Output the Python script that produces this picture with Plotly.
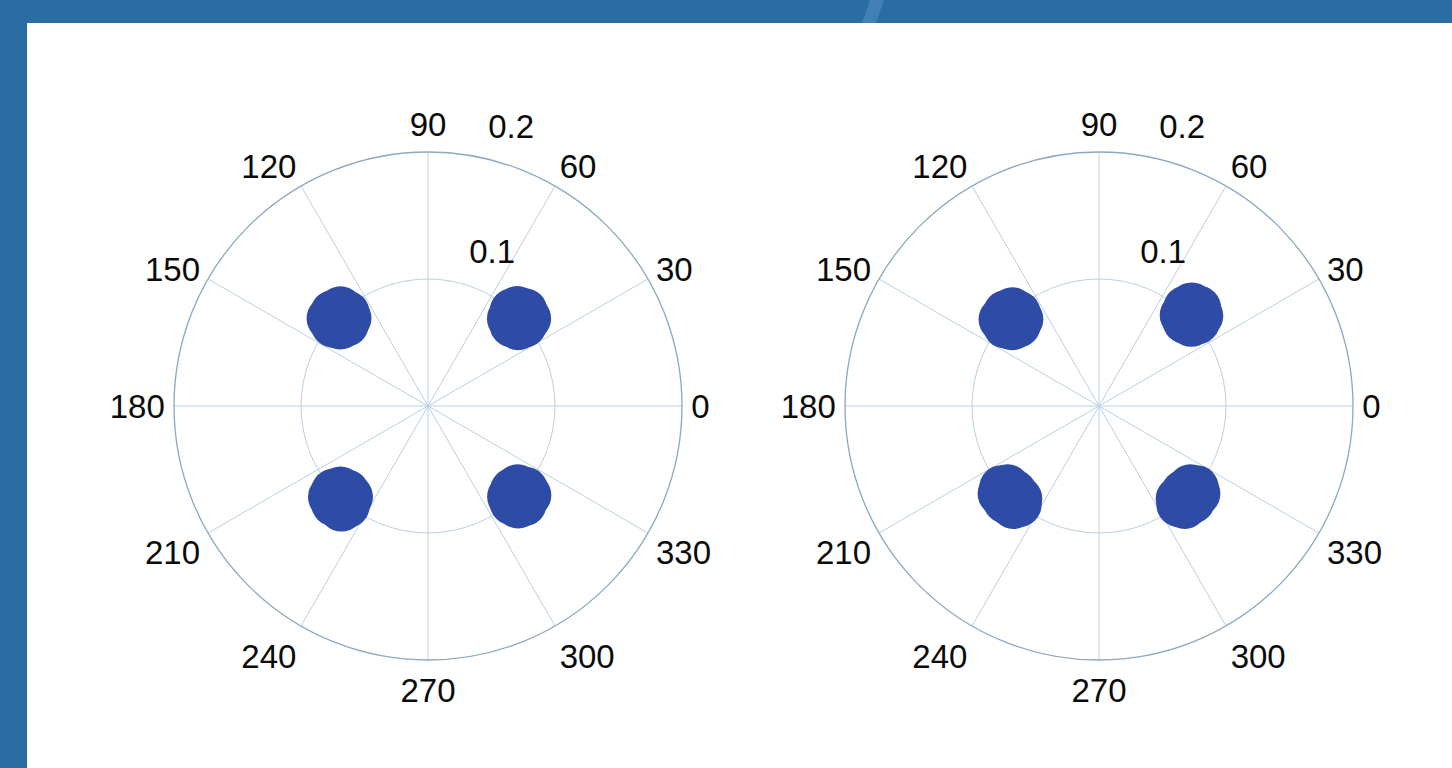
import plotly.graph_objects as go

# ---- data ----
angle_ticks = [0, 30, 60, 90, 120, 150, 180, 210, 240, 270, 300, 330]
angle_labels = ["0", "30", "60", "90", "120", "150", "180", "210", "240", "270", "300", "330"]
radial_ticks = [0.1, 0.2]
radial_labels = ["0.1", "0.2"]

# left constellation (four clusters)
r_left = [0.099, 0.094, 0.094, 0.105, 0.104, 0.099, 0.100, 0.092, 0.107,
          0.098, 0.093, 0.093, 0.103, 0.104, 0.097, 0.098, 0.091, 0.105,
          0.100, 0.095, 0.094, 0.105, 0.106, 0.100, 0.101, 0.093, 0.107,
          0.101, 0.096, 0.095, 0.106, 0.106, 0.101, 0.101, 0.094, 0.108]
theta_left = [44, 41, 47, 41, 47.5, 40, 48.5, 44, 44.5,
              135, 132, 138, 132, 138.5, 131, 139.5, 135, 135.5,
              226.5, 223.5, 229.5, 223, 230, 222, 231, 226.5, 226,
              315, 312, 318, 312, 318.5, 311, 319.5, 315, 314.5]

# right constellation (four clusters)
r_right = [0.102, 0.097, 0.097, 0.107, 0.108, 0.102, 0.103, 0.095, 0.110,
           0.097, 0.092, 0.092, 0.102, 0.103, 0.097, 0.097, 0.090, 0.104,
           0.100, 0.096, 0.096, 0.104, 0.104, 0.100, 0.100, 0.095, 0.105,
           0.100, 0.096, 0.096, 0.104, 0.104, 0.100, 0.100, 0.095, 0.105]
theta_right = [44.5, 41.5, 47.5, 41.5, 47.5, 40.5, 48.5, 44.5, 44.5,
               135, 132, 138, 132, 138.5, 131, 139.5, 135, 135,
               225.5, 221.5, 229.5, 221.5, 229.5, 220, 231, 225.5, 225.5,
               314.5, 310.5, 318.5, 310.5, 318.5, 309, 320, 314.5, 314.5]

W, H = 1452, 768
FONT = "Liberation Sans, Arial, sans-serif"
DOT = "#2e4ba6"
GRID = "#bad0e1"
OUTER = "#8aa8c0"
R = 254            # plot radius (px) for r = 0.2
LABEL_SHIFT = 36.5  # radial labels sit this far outward along the label line (px)
AX_ANGLE = 81.4
MSIZE = 45

fig = go.Figure()
fig.add_trace(go.Scatterpolar(r=r_left, theta=theta_left, mode="markers", subplot="polar",
                              marker=dict(size=MSIZE, color=DOT, line=dict(width=0)),
                              hoverinfo="skip", showlegend=False))
fig.add_trace(go.Scatterpolar(r=r_right, theta=theta_right, mode="markers", subplot="polar2",
                              marker=dict(size=MSIZE, color=DOT, line=dict(width=0)),
                              hoverinfo="skip", showlegend=False))
# empty traces that only carry the radial tick-label overlays
fig.add_trace(go.Scatterpolar(r=[], theta=[], mode="markers", subplot="polar3",
                              hoverinfo="skip", showlegend=False))
fig.add_trace(go.Scatterpolar(r=[], theta=[], mode="markers", subplot="polar4",
                              hoverinfo="skip", showlegend=False))


def dom(cx, cy, rad):
    return dict(x=[(cx - rad) / W, (cx + rad) / W], y=[(H - cy - rad) / H, (H - cy + rad) / H])


def polar_layout(cx, cy):
    return dict(
        domain=dom(cx, cy, R),
        bgcolor="rgba(0,0,0,0)",
        radialaxis=dict(range=[0, 0.2], tickmode="array", tickvals=radial_ticks,
                        showticklabels=False,
                        showline=False, showgrid=True, gridcolor=GRID, gridwidth=1,
                        angle=AX_ANGLE, ticks="", layer="below traces"),
        angularaxis=dict(direction="counterclockwise", rotation=0, tickmode="array",
                         tickvals=angle_ticks, ticktext=angle_labels,
                         showline=True, linecolor=OUTER, linewidth=1.3,
                         showgrid=True, gridcolor=GRID, gridwidth=1,
                         ticks="outside", ticklen=2, tickcolor="rgba(0,0,0,0)",
                         tickfont=dict(size=33, color="#0a0a0a", family=FONT), layer="below traces"),
    )


def label_layout(cx, cy):
    scale = R / 0.2                      # px per data unit
    r0 = -LABEL_SHIFT / scale
    r1 = 0.2 + 0.03
    rad = (r1 - r0) * scale
    return dict(
        domain=dom(cx, cy, rad),
        bgcolor="rgba(0,0,0,0)",
        radialaxis=dict(range=[r0, r1], tickmode="array", tickvals=radial_ticks, ticktext=radial_labels,
                        showline=False, showgrid=False, angle=AX_ANGLE, tickangle=AX_ANGLE,
                        side="clockwise", ticks="",
                        tickfont=dict(size=33, color="#0a0a0a", family=FONT)),
        angularaxis=dict(visible=False, showgrid=False, showline=False, showticklabels=False),
    )


fig.update_layout(
    width=W, height=H, margin=dict(l=0, r=0, t=0, b=0, pad=0),
    paper_bgcolor="white", plot_bgcolor="white", showlegend=False,
    font=dict(family=FONT),
    polar=polar_layout(428, 406),
    polar2=polar_layout(1099, 406),
    polar3=label_layout(428, 406),
    polar4=label_layout(1099, 406),
    shapes=[
        dict(type="rect", xref="paper", yref="paper", x0=0, x1=27 / W, y0=0, y1=1,
             fillcolor="#2a6da5", line=dict(width=0), layer="below"),
        dict(type="rect", xref="paper", yref="paper", x0=0, x1=1, y0=(H - 23) / H, y1=1,
             fillcolor="#2a6da5", line=dict(width=0), layer="below"),
        dict(type="path", xref="paper", yref="paper",
             path=f"M {870 / W} 1 L {884 / W} 1 L {876 / W} {(H - 23) / H} L {862 / W} {(H - 23) / H} Z",
             fillcolor="rgba(120,170,215,0.3)", line=dict(width=0), layer="below"),
    ],
)

fig.write_html("out.html")
